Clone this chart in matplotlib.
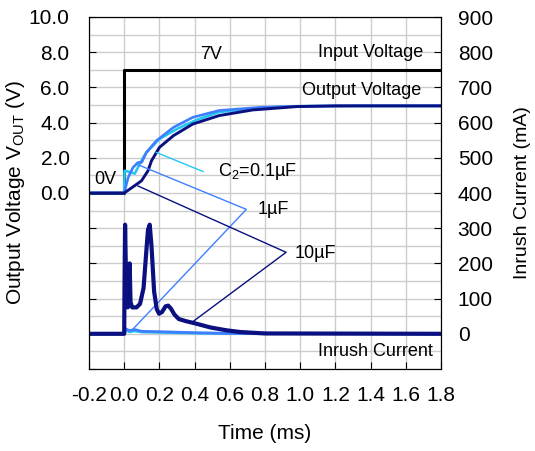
import numpy as np
import matplotlib
matplotlib.use("Agg")
import matplotlib.pyplot as plt

plt.rcParams['font.family'] = ['Liberation Sans', 'DejaVu Sans']
plt.rcParams['mathtext.fontset'] = 'custom'
plt.rcParams['mathtext.rm'] = 'Liberation Sans'

# input voltage (ms, V)
t_vin = [-0.2, 0.0, 0.0, 1.8]
v_vin = [0.0, 0.0, 7.0, 7.0]

# output voltage (ms, V)
t_c01 = [-0.2, 0.0, 0.002, 0.03, 0.06, 0.088, 0.107, 0.126, 0.2, 0.3, 0.41, 0.54, 0.78, 1.0, 1.3, 1.8]
v_c01 = [0.0, 0.0, 1.26, 1.2, 1.1, 1.64, 2.0, 2.3, 3.07, 3.64, 4.15, 4.6, 4.85, 4.93, 4.95, 4.95]
t_c1 = [-0.2, 0.0, 0.022, 0.05, 0.078, 0.1, 0.126, 0.183, 0.28, 0.39, 0.54, 0.78, 1.0, 1.3, 1.8]
v_c1 = [0.0, 0.0, 0.87, 1.45, 1.73, 1.75, 2.3, 2.97, 3.73, 4.3, 4.69, 4.87, 4.93, 4.95, 4.95]
t_c10 = [-0.2, 0.0, 0.05, 0.098, 0.135, 0.155, 0.2, 0.28, 0.39, 0.54, 0.73, 0.98, 1.2, 1.8]
v_c10 = [0.0, 0.0, 0.35, 0.69, 1.26, 1.83, 2.59, 3.26, 3.92, 4.4, 4.72, 4.91, 4.95, 4.95]

# inrush current (ms, mA)
t_i_small = [-0.2, 0.0, 0.01, 0.03, 0.06, 0.1, 0.2, 0.4, 0.6, 1.8]
i_c01 = [0, 0, 10, 6, 8, 5, 4, 2, 1, 0]
i_c1 = [0, 0, 14, 9, 12, 7, 6, 3, 1, 0]
t_i10 = [-0.2, 0.0, 0.002, 0.005, 0.012, 0.02, 0.026, 0.031, 0.036, 0.045, 0.07, 0.09, 0.11,
         0.125, 0.135, 0.145, 0.155, 0.17, 0.185, 0.198, 0.215, 0.235, 0.25, 0.265, 0.285,
         0.31, 0.35, 0.4, 0.49, 0.58, 0.66, 0.8, 1.8]
i_c10 = [0, 0, 150, 310, 110, 75, 110, 200, 90, 75, 75, 85, 130,
         230, 295, 310, 250, 120, 70, 57, 62, 78, 80, 72, 55,
         42, 36, 30, 18, 10, 5, 1, 0]

cyan = '#22c8f2'
blue = '#3f7fff'
navy = '#0a1080'

fig = plt.figure(figsize=(5.35, 4.51), dpi=100)
fig.subplots_adjust(left=89/535, right=441/535, top=1-17/451, bottom=1-369/451)
ax = fig.add_subplot(111)
ax2 = ax.twinx()

ax.set_xlim(-0.2, 1.8)
ax.set_ylim(-10, 10)
ax2.set_ylim(-100, 900)

ax.set_xticks(np.arange(-0.2, 1.81, 0.2))
ax.set_xticklabels(['%.1f' % v for v in np.arange(-0.2, 1.81, 0.2)])
ax.set_yticks(np.arange(-10, 10.1, 2))
ax.set_yticklabels(['%.1f' % v if v >= 0 else '' for v in np.arange(-10, 10.1, 2)])
ax.set_yticks(np.arange(-9, 10, 2), minor=True)
ax2.set_yticks(np.arange(0, 901, 100))

ax.grid(True, which='both', color='#cccccc', linewidth=1.0)
ax.set_axisbelow(True)
ax.tick_params(which='major', direction='in', length=5, labelsize=15, pad=12)
ax.tick_params(axis='y', pad=14)
ax.tick_params(which='minor', length=0)
ax2.tick_params(direction='in', length=5, labelsize=15, pad=12)

ax.plot(t_vin, v_vin, color='black', lw=2.2)
ax.plot(t_c01, v_c01, color=cyan, lw=1.9)
ax.plot(t_c1, v_c1, color=blue, lw=1.9)
ax.plot(t_c10, v_c10, color=navy, lw=2.1)

ax2.plot(t_i_small, i_c01, color=cyan, lw=2.0)
ax2.plot(t_i_small, i_c1, color=blue, lw=2.0)
ax2.plot(t_i10, i_c10, color=navy, lw=3.0)

# leader lines
ax.plot([0.183, 0.448], [2.30, 1.22], color=cyan, lw=1)
ax.plot([0.08, 0.694, 0.031], [1.6, -0.93, -7.93], color=blue, lw=1)
ax.plot([0.078, 0.92, 0.39], [0.4, -3.37, -7.31], color=navy, lw=1)

fs = 13
ax.text(0.495, 7.85, '7V', fontsize=fs, ha='center', va='center')
ax.text(1.70, 8.0, 'Input Voltage', fontsize=fs, ha='right', va='center')
ax.text(1.69, 5.83, 'Output Voltage', fontsize=fs, ha='right', va='center')
ax.text(-0.168, 0.74, '0V', fontsize=fs, ha='left', va='center')
ax.text(0.531, 1.22, 'C$_2$=0.1µF', fontsize=fs, ha='left', va='center')
ax.text(0.76, -0.93, '1µF', fontsize=fs, ha='left', va='center')
ax.text(0.969, -3.41, '10µF', fontsize=fs, ha='left', va='center')
ax.text(1.755, -9.03, 'Inrush Current', fontsize=fs, ha='right', va='center')

ax.set_xlabel('Time (ms)', fontsize=15, labelpad=14)
ax.set_ylabel('Output Voltage V$_{\\rm OUT}$ (V)', fontsize=15, labelpad=1)
ax2.set_ylabel('Inrush Current (mA)', fontsize=14, labelpad=15)

fig.savefig('out.png', dpi=100)
